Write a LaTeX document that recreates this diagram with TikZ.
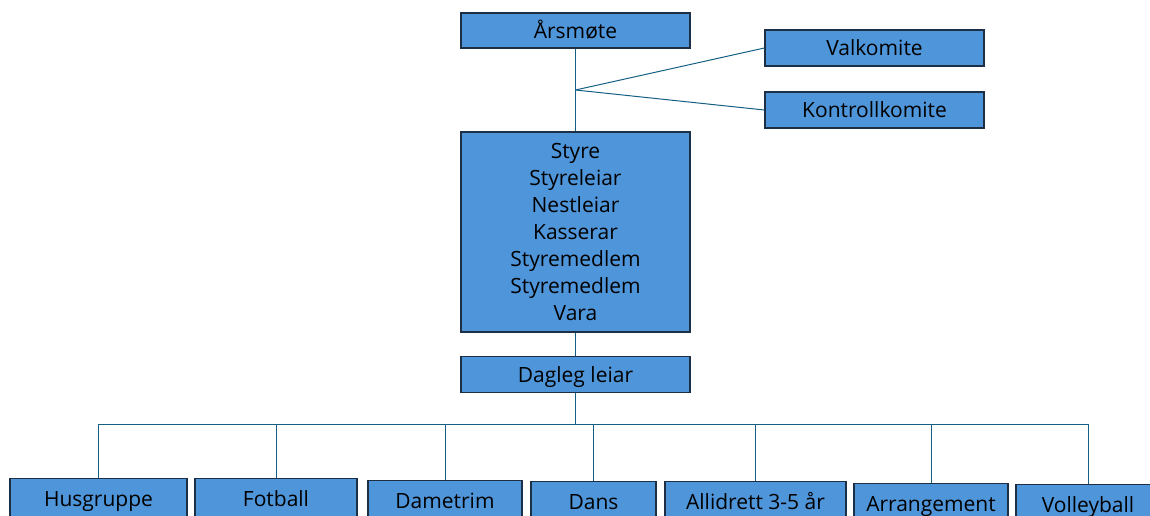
\documentclass[tikz,border=0pt]{standalone}
\usepackage{fontspec}
\setmainfont{Open Sans}
\definecolor{boxfill}{HTML}{4E95D9}
\definecolor{boxline}{HTML}{1C2F44}
\definecolor{conn}{HTML}{156082}
\tikzset{
  orgbox/.style={draw=boxline, fill=boxfill, line width=1.3pt, rectangle, inner sep=0pt,
    font=\fontsize{21}{27}\selectfont, text=black, align=center},
  onebox/.style={orgbox, text height=15pt, text depth=0pt},
  link/.style={draw=conn, line width=1pt}
}
\begin{document}
\begin{tikzpicture}[x=1pt,y=-1pt]
\useasboundingbox (0,0) rectangle (1150,515);
\clip (0,0) rectangle (1150,515);
% top part
\node[onebox, minimum width=229pt, minimum height=35pt] (aars) at (575.5,30.5) {Årsmøte};
\node[onebox, minimum width=219pt, minimum height=36pt] (val) at (874.5,48) {Valkomite};
\node[onebox, minimum width=219pt, minimum height=36pt] (kontroll) at (874.5,110) {Kontrollkomite};
\node[orgbox, minimum width=229pt, minimum height=200pt] (styre) at (575.5,232) {Styre\\Styreleiar\\Nestleiar\\Kasserar\\Styremedlem\\Styremedlem\\Vara};
\node[onebox, minimum width=229pt, minimum height=36pt] (dl) at (575.5,374.5) {Dagleg leiar};
\coordinate (junc) at (575.5,90);
\coordinate (bus) at (575.5,424);
% bottom boxes (cut by the picture's lower edge)
\node[onebox, minimum width=177pt, minimum height=40pt, anchor=north] (hus) at (98.5,478) {Husgruppe};
\node[onebox, minimum width=162pt, minimum height=40pt, anchor=north] (fot) at (276,478) {Fotball};
\node[onebox, minimum width=154pt, minimum height=40pt, anchor=north] (dame) at (445,480) {Dametrim};
\node[onebox, minimum width=125pt, minimum height=40pt, anchor=north] (dans) at (593.5,481) {Dans};
\node[onebox, minimum width=181pt, minimum height=40pt, anchor=north] (alli) at (755.5,481) {Allidrett 3-5 år};
\node[onebox, minimum width=154pt, minimum height=40pt, anchor=north] (arr) at (931,483) {Arrangement};
\node[onebox, minimum width=144pt, minimum height=40pt, anchor=north] (volley) at (1088,484) {Volleyball};
% connectors
\draw[link] (aars.south) -- (styre.north);
\draw[link] (junc) -- (val.west);
\draw[link] (junc) -- (kontroll.west);
\draw[link] (styre.south) -- (dl.north);
\draw[link] (dl.south) -- (bus);
\foreach \b in {hus,fot,dame,dans,alli,arr,volley}{
  \draw[link] (\b.north) |- (bus);
}
\end{tikzpicture}
\end{document}
